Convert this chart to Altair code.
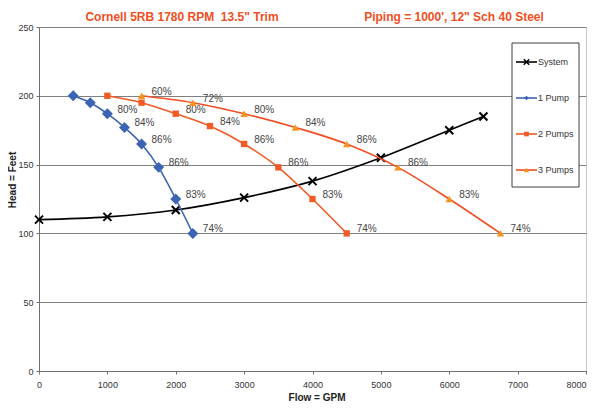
import altair as alt
import pandas as pd

# ---------------- data ----------------
series_names = ["System", "1 Pump", "2 Pumps", "3 Pumps"]

system_flow = [0, 1000, 2000, 3000, 4000, 5000, 6000, 6500]
system_head = [110, 112, 117, 126, 138, 155, 175, 185]

pump1_flow = [500, 750, 1000, 1250, 1500, 1750, 2000, 2250]
pump1_head = [200, 195, 187, 177, 165, 148, 125, 100]
pump1_eff = ["", "", "80%", "84%", "86%", "86%", "83%", "74%"]

pump2_flow = [1000, 1500, 2000, 2500, 3000, 3500, 4000, 4500]
pump2_head = [200, 195, 187, 178, 165, 148, 125, 100]
pump2_eff = ["", "", "80%", "84%", "86%", "86%", "83%", "74%"]

pump3_flow = [1500, 2250, 3000, 3750, 4500, 5250, 6000, 6750]
pump3_head = [200, 195, 187, 177, 165, 148, 125, 100]
pump3_eff = ["60%", "72%", "80%", "84%", "86%", "86%", "83%", "74%"]

x_ticks = [0, 1000, 2000, 3000, 4000, 5000, 6000, 7000, 8000]
y_ticks = [0, 50, 100, 150, 200, 250]

title_left = 'Cornell 5RB 1780 RPM\u00a0 13.5" Trim'
title_right = "Piping = 1000', 12\" Sch 40 Steel"
x_title = "Flow = GPM"
y_title = "Head = Feet"

# ---------------- styles ----------------
FONT = "Liberation Sans"
X_PATH = "M-1,-1L1,1M-1,1L1,-1"
styles = {
    "System": dict(line="#000000", point="#000000", shape=X_PATH, size=64, filled=False, lsize=30),
    "1 Pump": dict(line="#3C64B4", point="#3C64B4", shape="diamond", size=120, filled=True, lsize=22),
    "2 Pumps": dict(line="#F15A24", point="#F15A24", shape="square", size=40, filled=True, lsize=22),
    "3 Pumps": dict(line="#F04E23", point="#F7941D", shape="triangle-up", size=55, filled=True, lsize=25),
}

series_data = {
    "System": (system_flow, system_head, [""] * len(system_flow)),
    "1 Pump": (pump1_flow, pump1_head, pump1_eff),
    "2 Pumps": (pump2_flow, pump2_head, pump2_eff),
    "3 Pumps": (pump3_flow, pump3_head, pump3_eff),
}

W, H = 547, 344

xscale = alt.Scale(domain=[0, 8000], nice=False, zero=False)
yscale = alt.Scale(domain=[0, 250], nice=False)

x_axis = alt.Axis(values=x_ticks, grid=False, title=None, labelFont=FONT, labelFontSize=9,
                  labelColor="#333333", domainColor="#707070", tickColor="#707070",
                  tickSize=3, labelPadding=6, format="d", labelFlush=False,
                  labelAlign={"condition": {"test": "datum.value >= 8000", "value": "right"},
                              "value": "center"})
y_axis = alt.Axis(values=y_ticks, grid=True, gridColor="#808080", gridWidth=1, title=None,
                  labelFont=FONT, labelFontSize=9, labelColor="#333333",
                  domainColor="#707070", tickColor="#707070", tickSize=3, labelPadding=3)

layers = []

# gridlines / axes carrier
axis_df = pd.DataFrame({"flow": [0], "head": [0]})
layers.append(
    alt.Chart(axis_df).mark_point(opacity=0).encode(
        x=alt.X("flow:Q", scale=xscale, axis=x_axis),
        y=alt.Y("head:Q", scale=yscale, axis=y_axis),
    )
)

for name in series_names:
    flow, head, eff = series_data[name]
    st = styles[name]
    df = pd.DataFrame({"flow": flow, "head": head, "eff": eff})
    base = alt.Chart(df).encode(
        x=alt.X("flow:Q", scale=xscale, axis=x_axis),
        y=alt.Y("head:Q", scale=yscale, axis=y_axis),
    )
    layers.append(base.mark_line(color=st["line"], strokeWidth=1.6, interpolate="monotone"))
    if st["filled"]:
        layers.append(base.mark_point(shape=st["shape"], size=st["size"], filled=True,
                                      color=st["point"], opacity=1, strokeWidth=0))
    else:
        layers.append(base.mark_point(shape=st["shape"], size=st["size"], filled=False,
                                      color=st["point"], opacity=1, strokeWidth=2))
    layers.append(base.mark_text(align="left", baseline="middle", dx=10, dy=-4,
                                 font=FONT, fontSize=10, color="#444444").encode(text="eff:N"))

# ---------------- legend (drawn by hand) ----------------
one = pd.DataFrame({"a": [0]})
layers.append(
    alt.Chart(one).mark_rect(fill="white", stroke="#404040", strokeWidth=1).encode(
        x=alt.value(473), x2=alt.value(540), y=alt.value(16), y2=alt.value(160)
    )
)
for i, name in enumerate(series_names):
    st = styles[name]
    ly = 35 + 36 * i
    ldf = pd.DataFrame({"name": [name]})
    layers.append(
        alt.Chart(ldf).mark_rule(color=st["line"], strokeWidth=1.6).encode(
            x=alt.value(477), x2=alt.value(498), y=alt.value(ly)
        )
    )
    layers.append(
        alt.Chart(ldf).mark_point(shape=st["shape"], size=st["lsize"], filled=st["filled"],
                                  color=st["point"], opacity=1,
                                  strokeWidth=(1.5 if not st["filled"] else 0)).encode(
            x=alt.value(487.5), y=alt.value(ly)
        )
    )
    layers.append(
        alt.Chart(ldf).mark_text(align="left", baseline="middle", font=FONT, fontSize=9,
                                 color="#333333").encode(
            x=alt.value(499), y=alt.value(ly), text="name:N"
        )
    )

# ---------------- titles ----------------
for txt, xpos in [(title_left, 143), (title_right, 415)]:
    layers.append(
        alt.Chart(pd.DataFrame({"t": [txt]})).mark_text(
            align="center", baseline="middle", font=FONT, fontSize=12, fontWeight="bold",
            color="#F04E23").encode(x=alt.value(xpos), y=alt.value(-10), text="t:N")
    )

layers.append(
    alt.Chart(pd.DataFrame({"t": [x_title]})).mark_text(
        align="center", baseline="middle", font=FONT, fontSize=10, fontWeight="bold",
        color="#222222").encode(x=alt.value(278), y=alt.value(31 + H - 4), text="t:N")
)
layers.append(
    alt.Chart(pd.DataFrame({"t": [y_title]})).mark_text(
        align="center", baseline="middle", font=FONT, fontSize=10, fontWeight="bold",
        color="#222222", angle=270).encode(x=alt.value(-26), y=alt.value(153), text="t:N")
)

chart = alt.layer(*layers).properties(
    width=W, height=H,
    padding={"left": 31, "top": 19, "right": 6, "bottom": 31},
    autosize=alt.AutoSizeParams(type="none"),
    background="white",
).configure_view(stroke="#c8c8c8", strokeWidth=1)

chart.save("out.html", embed_options={"renderer": "svg", "actions": False})
